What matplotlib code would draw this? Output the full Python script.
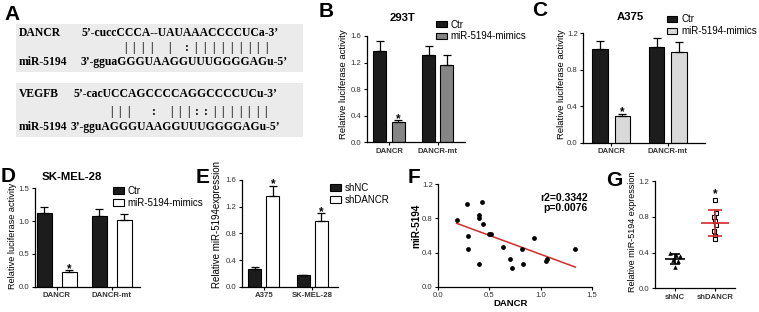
#
# DANCR / miR-5194 figure
# Binding sites (A), luciferase reporter (B-D), miR-5194 expression (E-G)
#

###################################################################################################
# Dependencies
import numpy as np
import matplotlib
matplotlib.use('Agg')
import matplotlib.pyplot as plt
from matplotlib.patches import Rectangle
###################################################################################################

plt.rcParams['font.family'] = ['Liberation Sans', 'DejaVu Sans']

# Panel A: sequences
dancr_name = 'DANCR'
dancr_seq = '5\u2019-cuccCCCA--UAUAAACCCCUCa-3\u2019'
dancr_pairs = '|||| | :|||||||||'
mir_name = 'miR-5194'
mir_seq_1 = '3\u2019-gguaGGGUAAGGUUUGGGGAGu-5\u2019'
vegfb_name = 'VEGFB'
vegfb_seq = '5\u2019-cacUCCAGCCCCAGGCCCCUCu-3\u2019'
vegfb_pairs = '|||  : |||::|||||||'
mir_seq_2 = '3\u2019-gguAGGGUAAGGUUUGGGGAGu-5\u2019'

# Panels B-D: luciferase activity
luc_groups = ['DANCR', 'DANCR-mt']
luc_series = ['Ctr', 'miR-5194-mimics']

b_ctr = [1.38, 1.31]
b_ctr_err = [0.14, 0.14]
b_mim = [0.30, 1.17]
b_mim_err = [0.03, 0.15]

c_ctr = [1.03, 1.05]
c_ctr_err = [0.09, 0.10]
c_mim = [0.29, 1.00]
c_mim_err = [0.03, 0.10]

d_ctr = [1.12, 1.08]
d_ctr_err = [0.10, 0.10]
d_mim = [0.23, 1.01]
d_mim_err = [0.02, 0.10]

luc_sig = [True, False]

# Panel E: miR-5194 expression after knockdown
e_groups = ['A375', 'SK-MEL-28']
e_series = ['shNC', 'shDANCR']
e_shnc = [0.27, 0.17]
e_shnc_err = [0.02, 0.01]
e_shdancr = [1.36, 0.99]
e_shdancr_err = [0.15, 0.11]
e_sig = [True, True]

# Panel F: correlation in tissue
f_dancr = [0.18, 0.28, 0.29, 0.29, 0.40, 0.40, 0.43, 0.44, 0.40, 0.50,
           0.52, 0.63, 0.70, 0.72, 0.82, 0.83, 0.94, 1.05, 1.06, 1.34]
f_mir = [0.78, 0.97, 0.60, 0.44, 0.84, 0.81, 0.99, 0.73, 0.27, 0.62,
         0.62, 0.47, 0.33, 0.22, 0.44, 0.27, 0.57, 0.30, 0.33, 0.44]
f_r2 = 'r2=0.3342'
f_p = 'p=0.0076'

# Panel G: xenograft expression
g_groups = ['shNC', 'shDANCR']
g_shnc = [0.39, 0.37, 0.36, 0.32, 0.30, 0.24]
g_shdancr = [0.99, 0.84, 0.80, 0.75, 0.71, 0.64, 0.59, 0.55]


###################################################################################################
# Layout helpers (everything in pixels of the 759x312 figure)
###################################################################################################
W, H = 759.0, 312.0
fig = plt.figure(figsize=(W / 100, H / 100), dpi=100)

def px_axes(x0, y0, x1, y1):
	# x0/x1 = left/right, y0 = top of y range, y1 = zero line
	return fig.add_axes([x0 / W, 1 - y1 / H, (x1 - x0) / W, (y1 - y0) / H])

def px_text(x, y, s, **kw):
	return fig.text(x / W, 1 - y / H, s, **kw)

def style_axes(ax):
	for s in ['top', 'right']:
		ax.spines[s].set_visible(False)
	for s in ['left', 'bottom']:
		ax.spines[s].set_linewidth(0.9)
	ax.tick_params(direction='out', length=2.5, width=0.8, labelsize=5.6, pad=1.5,
	               labelcolor='#333333')

def panel_letter(x, y, s):
	px_text(x, y, s, fontsize=15, fontweight='bold', ha='left', va='top')

def star(ax, x, y):
	ax.annotate('*', (x, y), xytext=(0, -1), textcoords='offset points',
	            ha='center', va='baseline', fontsize=8.5, fontweight='bold')

def legend_at(ax, handles, labels, x, y):
	ax.legend(handles, labels, loc='upper left', bbox_to_anchor=(x / W, 1 - y / H),
	          bbox_transform=fig.transFigure, frameon=False, fontsize=7,
	          handlelength=1.1, handleheight=0.65, handletextpad=0.4,
	          labelspacing=0.2, borderpad=0, borderaxespad=0)

def grouped_bars(ax, groups, v1, e1, v2, e2, c1, c2, width, offset, sig):
	x = np.arange(len(groups))
	ekw = dict(elinewidth=0.9, capthick=0.9, ecolor='black')
	b1 = ax.bar(x - offset, v1, width, color=c1, edgecolor='black', linewidth=0.8,
	            yerr=[np.zeros(len(x)), e1], capsize=2.9, error_kw=ekw)
	b2 = ax.bar(x + offset, v2, width, color=c2, edgecolor='black', linewidth=0.8,
	            yerr=[np.zeros(len(x)), e2], capsize=2.9, error_kw=ekw)
	for i in range(len(x)):
		if sig[i]:
			star(ax, x[i] + offset, v2[i] + e2[i])
	ax.set_xticks(x)
	ax.set_xticklabels(groups, fontsize=5.3, fontweight='bold', color='#222222')
	return b1, b2


###################################################################################################
# Panel A
###################################################################################################
panel_letter(4, 5, 'A')
fig.patches.append(Rectangle((16 / W, 1 - 72 / H), 287 / W, 48 / H, transform=fig.transFigure,
                             facecolor='#ebebeb', edgecolor='none', zorder=0))
fig.patches.append(Rectangle((16 / W, 1 - 137 / H), 287 / W, 54 / H, transform=fig.transFigure,
                             facecolor='#ebebeb', edgecolor='none', zorder=0))

seq_kw = dict(family=['Liberation Serif', 'DejaVu Serif'], fontweight='bold', fontsize=8.4,
              va='center', ha='left')

px_text(19, 33, dancr_name, **seq_kw)
px_text(81, 33, dancr_seq, **seq_kw)
px_text(19, 62, mir_name, **seq_kw)
px_text(81, 62, mir_seq_1, **seq_kw)
for i, ch in enumerate(dancr_pairs):
	if ch != ' ':
		px_text(125 + i * 8.85, 48, ch, **dict(seq_kw, ha='center'))

px_text(19, 94, vegfb_name, **seq_kw)
px_text(73, 94, vegfb_seq, **seq_kw)
px_text(19, 127, mir_name, **seq_kw)
px_text(71, 127, mir_seq_2, **seq_kw)
for i, ch in enumerate(vegfb_pairs):
	if ch != ' ':
		px_text(111 + i * 8.6, 112, ch, **dict(seq_kw, ha='center'))


###################################################################################################
# Panels B, C, D: luciferase reporter
###################################################################################################
# B - 293T
ax = px_axes(366.7, 36, 465, 142.3)
b1, b2 = grouped_bars(ax, luc_groups, b_ctr, b_ctr_err, b_mim, b_mim_err,
                      '#1c1c1c', '#858585', 0.267, 0.185, luc_sig)
ax.set_xlim(-0.458, (465 - 389) / 48.7)
ax.set_ylim(0, 1.6)
ax.set_yticks([0.0, 0.4, 0.8, 1.2, 1.6])
ax.set_yticklabels(['0.0', '0.4', '0.8', '1.2', '1.6'])
style_axes(ax)
legend_at(ax, [b1, b2], luc_series, 436, 19.5)
px_text(403, 18, '293T', fontsize=8.2, fontweight='bold', ha='center', va='center')
px_text(344, 84, 'Relative luciferase activity', fontsize=6.8, rotation=90, ha='center', va='center')
panel_letter(319, 2, 'B')

# C - A375
ax = px_axes(583.3, 33.3, 705, 142.7)
b1, b2 = grouped_bars(ax, luc_groups, c_ctr, c_ctr_err, c_mim, c_mim_err,
                      '#1c1c1c', '#d9d9d9', 0.273, 0.198, luc_sig)
ax.set_xlim(-0.49, (705 - 611) / 56.7)
ax.set_ylim(0, 1.2)
ax.set_yticks([0.0, 0.4, 0.8, 1.2])
ax.set_yticklabels(['0.0', '0.4', '0.8', '1.2'])
style_axes(ax)
legend_at(ax, [b1, b2], luc_series, 666.7, 14.5)
px_text(630, 17, 'A375', fontsize=8.2, fontweight='bold', ha='center', va='center')
px_text(561.5, 84, 'Relative luciferase activity', fontsize=6.8, rotation=90, ha='center', va='center')
panel_letter(532, 1, 'C')

# D - SK-MEL-28
ax = px_axes(35, 188.3, 140, 286.7)
b1, b2 = grouped_bars(ax, luc_groups, d_ctr, d_ctr_err, d_mim, d_mim_err,
                      '#1c1c1c', 'white', 0.27, 0.227, luc_sig)
ax.set_xlim(-0.395, (140 - 56.7) / 55)
ax.set_ylim(0, 1.5)
ax.set_yticks([0.0, 0.5, 1.0, 1.5])
ax.set_yticklabels(['0.0', '0.5', '1.0', '1.5'])
style_axes(ax)
legend_at(ax, [b1, b2], luc_series, 113, 186)
px_text(72, 177, 'SK-MEL-28', fontsize=8.2, fontweight='bold', ha='center', va='center')
px_text(13, 236, 'Relative luciferase activity', fontsize=6.6, rotation=90, ha='center', va='center')
panel_letter(1, 167, 'D')


###################################################################################################
# Panel E: qPCR after DANCR knockdown
###################################################################################################
ax = px_axes(241.7, 180, 338, 286.7)
b1, b2 = grouped_bars(ax, e_groups, e_shnc, e_shnc_err, e_shdancr, e_shdancr_err,
                      '#1c1c1c', 'white', 0.27, 0.186, e_sig)
ax.set_xlim(-0.46, (338 - 264) / 48.3)
ax.set_ylim(0, 1.6)
ax.set_yticks([0.0, 0.4, 0.8, 1.2, 1.6])
ax.set_yticklabels(['0.0', '0.4', '0.8', '1.2', '1.6'])
style_axes(ax)
legend_at(ax, [b1, b2], e_series, 330, 183)
px_text(217, 224, 'Relative miR-5194expression', fontsize=7, rotation=90, ha='center', va='center')
panel_letter(196, 168, 'E')


###################################################################################################
# Panel F: correlation
###################################################################################################
ax = px_axes(438.3, 184.3, 591.7, 286.7)
ax.scatter(f_dancr, f_mir, s=12, color='black', linewidths=0, zorder=3)
slope, icept = np.polyfit(f_dancr, f_mir, 1)
xs = np.array([min(f_dancr), max(f_dancr)])
ax.plot(xs, slope * xs + icept, color='#d42a2a', lw=1.1, zorder=2)
ax.set_xlim(0, 1.5)
ax.set_ylim(0, 1.2)
ax.set_xticks([0.0, 0.5, 1.0, 1.5])
ax.set_xticklabels(['0.0', '0.5', '1.0', '1.5'])
ax.set_yticks([0.0, 0.4, 0.8, 1.2])
ax.set_yticklabels(['0.0', '0.4', '0.8', '1.2'])
style_axes(ax)
ax.text(1.46, 1.04, f_r2, fontsize=7.5, fontweight='bold', ha='right', va='center')
ax.text(1.46, 0.92, f_p, fontsize=7.5, fontweight='bold', ha='right', va='center')
px_text(416, 226, 'miR-5194', fontsize=7.2, fontweight='bold', rotation=90, ha='center', va='center')
px_text(511, 304, 'DANCR', fontsize=6.8, fontweight='bold', ha='center', va='center')
panel_letter(408, 168, 'F')


###################################################################################################
# Panel G: scatter with mean and SD
###################################################################################################
ax = px_axes(655, 181, 735, 288.3)
jit_nc = [-0.12, 0.02, 0.12, -0.05, 0.08, 0.0]
jit_sh = [0.0, 0.02, -0.02, 0.0, 0.02, -0.02, 0.0, 0.0]
ax.scatter(np.zeros(len(g_shnc)) + jit_nc, g_shnc, marker='^', s=11, color='black',
           linewidths=0, zorder=3)
ax.scatter(np.ones(len(g_shdancr)) + jit_sh, g_shdancr, marker='s', s=9, facecolor='white',
           edgecolor='black', linewidths=0.8, zorder=3)
for i, (vals, col, hw) in enumerate([(g_shnc, 'black', 0.25), (g_shdancr, '#d42a2a', 0.34)]):
	m, sd = np.mean(vals), np.std(vals, ddof=1)
	ax.hlines(m, i - hw, i + hw, color=col, lw=1.2, zorder=4)
	ax.errorbar(i, m, yerr=sd, fmt='none', ecolor=col, elinewidth=1.2, capsize=5 if i else 3.6,
	            capthick=1.2, zorder=4)
star(ax, 1, max(g_shdancr) + 0.04)
ax.set_xlim(-0.5, 1.5)
ax.set_ylim(0, 1.2)
ax.set_xticks([0, 1])
ax.set_xticklabels(g_groups, fontsize=5.6, fontweight='bold', color='#222222')
ax.set_yticks([0.0, 0.4, 0.8, 1.2])
ax.set_yticklabels(['0.0', '0.4', '0.8', '1.2'])
style_axes(ax)
px_text(632.5, 232, 'Relative miR-5194 expression', fontsize=6.5, rotation=90, ha='center', va='center')
panel_letter(606, 171, 'G')

fig.savefig('out.png', dpi=100)
